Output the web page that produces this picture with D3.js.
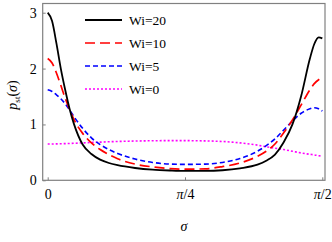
<!DOCTYPE html>
<html>
<head>
<meta charset="utf-8">
<script src="https://cdn.jsdelivr.net/npm/d3@7"></script>
<style>
  body { margin: 0; background: #fff; }
  text { font-family: "Liberation Serif", "DejaVu Serif", serif; }
</style>
</head>
<body>
<script>
// sigma grid (radians) and p_st values
var sigma = [0, 0.025, 0.05, 0.075, 0.1, 0.125, 0.15, 0.2, 0.25, 0.3, 0.35, 0.4, 0.5, 0.6, 0.7, 0.785,
             0.9, 1.0, 1.1, 1.2, 1.25, 1.3, 1.35, 1.4, 1.45, 1.5, 1.525, 1.55, 1.571];
var wi20 = [3.0, 2.85, 2.45, 2.0, 1.62, 1.28, 1.01, 0.64, 0.47, 0.37, 0.31, 0.27, 0.22, 0.19, 0.175, 0.168,
            0.168, 0.18, 0.215, 0.28, 0.35, 0.46, 0.68, 1.0, 1.51, 2.18, 2.44, 2.56, 2.54];
var wi10 = [2.18, 2.1, 1.92, 1.7, 1.47, 1.27, 1.09, 0.84, 0.67, 0.55, 0.46, 0.385, 0.29, 0.24, 0.21, 0.2,
            0.205, 0.245, 0.31, 0.43, 0.52, 0.65, 0.85, 1.08, 1.35, 1.62, 1.73, 1.8, 1.83];
var wi5 = [1.62, 1.59, 1.53, 1.46, 1.37, 1.26, 1.14, 0.93, 0.76, 0.64, 0.55, 0.48, 0.38, 0.32, 0.29, 0.285,
           0.29, 0.32, 0.39, 0.52, 0.62, 0.74, 0.9, 1.06, 1.2, 1.28, 1.3, 1.28, 1.24];
var wi0 = [0.65, 0.65, 0.652, 0.655, 0.657, 0.66, 0.663, 0.67, 0.677, 0.683, 0.69, 0.695, 0.703, 0.708, 0.71, 0.71,
           0.705, 0.695, 0.67, 0.63, 0.6, 0.575, 0.55, 0.52, 0.49, 0.465, 0.455, 0.44, 0.435];

var seriesNames = ["Wi=20", "Wi=10", "Wi=5", "Wi=0"];
var xTicks = [0, Math.PI / 4, Math.PI / 2];
var xTickLabels = ["0", "π/4", "π/2"];
var yTicks = [0, 1, 2, 3];

var svg = d3.select("body").append("svg")
  .attr("width", 332)
  .attr("height", 242);

var frame = { left: 42.7, right: 325, top: 3.5, bottom: 180.3 };

var x = d3.scaleLinear()
  .domain([-0.0286, 1.5863])
  .range([frame.left, frame.right]);

var y = d3.scaleLinear()
  .domain([0, 3.165])
  .range([frame.bottom, frame.top]);

// curves
var styles = [
  { data: wi20, color: "#000", width: 1.8, dash: null },
  { data: wi10, color: "#f00", width: 1.7, dash: "10,5" },
  { data: wi5, color: "#00f", width: 1.6, dash: "5,3" },
  { data: wi0, color: "#f0f", width: 1.6, dash: "2,2" }
];

var line = d3.line()
  .x(function(d) { return x(d[0]); })
  .y(function(d) { return y(d[1]); })
  .curve(d3.curveMonotoneX);

var plot = svg.append("g");

styles.slice().reverse().forEach(function(s) {
  plot.append("path")
    .datum(sigma.map(function(v, i) { return [v, s.data[i]]; }))
    .attr("d", line)
    .attr("fill", "none")
    .attr("stroke", s.color)
    .attr("stroke-width", s.width)
    .attr("stroke-dasharray", s.dash);
});

// frame
svg.append("rect")
  .attr("x", frame.left)
  .attr("y", frame.top)
  .attr("width", frame.right - frame.left)
  .attr("height", frame.bottom - frame.top)
  .attr("fill", "none")
  .attr("stroke", "#808080")
  .attr("stroke-width", 1.2);

// axes with inward ticks
var xAxis = svg.append("g")
  .attr("transform", "translate(0," + frame.bottom + ")")
  .call(d3.axisBottom(x).tickValues(xTicks).tickSize(-3).tickPadding(9)
    .tickFormat(function(d, i) { return xTickLabels[i]; }));

var yAxis = svg.append("g")
  .attr("transform", "translate(" + frame.left + ",0)")
  .call(d3.axisLeft(y).tickValues(yTicks).tickSize(-3).tickPadding(6)
    .tickFormat(d3.format("d")));

[xAxis, yAxis].forEach(function(a) {
  a.select(".domain").remove();
  a.selectAll(".tick line").attr("stroke", "#808080");
  a.selectAll(".tick text")
    .attr("fill", "#000")
    .style("font-family", "'Liberation Serif', serif")
    .style("font-size", "14px");
});

// italic pi in x tick labels
xAxis.selectAll(".tick text").each(function(d, i) {
  var t = d3.select(this);
  var label = xTickLabels[i];
  if (label.indexOf("π") === 0) {
    t.text(null);
    t.append("tspan").style("font-style", "italic").text("π");
    t.append("tspan").text(label.slice(1));
  }
});

// legend
var legend = svg.append("g");
styles.forEach(function(s, i) {
  var ly = 20 + i * 23;
  legend.append("line")
    .attr("x1", 85).attr("x2", 122)
    .attr("y1", ly).attr("y2", ly)
    .attr("stroke", s.color)
    .attr("stroke-width", s.width)
    .attr("stroke-dasharray", s.dash);
  legend.append("text")
    .attr("x", 129)
    .attr("y", ly + 4.5)
    .style("font-size", "13.5px")
    .text(seriesNames[i]);
});

// axis labels
var yl = svg.append("text")
  .attr("transform", "translate(17,95) rotate(-90)")
  .attr("text-anchor", "middle")
  .style("font-size", "14px");
yl.append("tspan").style("font-style", "italic").text("p");
yl.append("tspan").attr("dy", 3).style("font-size", "9px").text("st");
yl.append("tspan").attr("dy", -3).text("(");
yl.append("tspan").style("font-style", "italic").text("σ");
yl.append("tspan").text(")");

svg.append("text")
  .attr("x", 184)
  .attr("y", 231)
  .attr("text-anchor", "middle")
  .style("font-size", "14px")
  .style("font-style", "italic")
  .text("σ");
</script>
</body>
</html>
